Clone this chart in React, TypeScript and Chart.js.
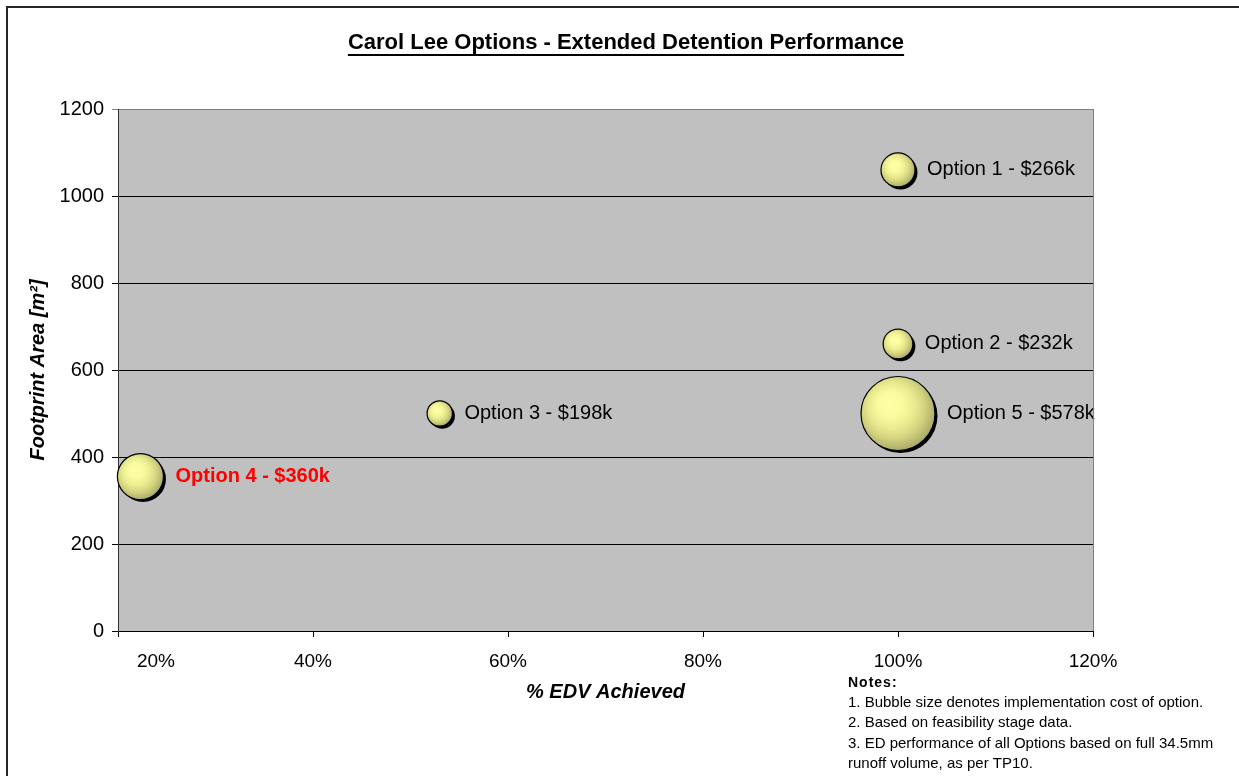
import React, { useEffect, useRef } from "react";
import { Chart, registerables } from "chart.js";

Chart.register(...registerables);

const optionNames = ["Option 1", "Option 2", "Option 3", "Option 4", "Option 5"];
const edvAchieved = [100, 100, 53, 22.3, 100];
const footprintArea = [1060, 660, 500, 355, 500];
const costK = [266, 232, 198, 360, 578];
const highlightIndex = 3;

const xTicks = [20, 40, 60, 80, 100, 120];
const yTicks = [0, 200, 400, 600, 800, 1000, 1200];

const chartTitle = "Carol Lee Options - Extended Detention Performance";
const xTitle = "% EDV Achieved";
const yTitle = "Footprint Area [m\u00B2]";
const notesHeader = "Notes:";
const notesLines = [
  "1. Bubble size denotes implementation cost of option.",
  "2. Based on feasibility stage data.",
  "3. ED performance of all Options based on full 34.5mm",
  "runoff volume, as per TP10.",
];

const FONT = "'Liberation Sans', Arial, sans-serif";
const RADIUS_PER_K = 0.064;

const decorPlugin = {
  id: "decor",
  beforeDraw(chart: any) {
    const { ctx, chartArea } = chart;
    ctx.save();
    ctx.fillStyle = "#ffffff";
    ctx.fillRect(0, 0, chart.width, chart.height);
    ctx.fillStyle = "#C0C0C0";
    ctx.fillRect(chartArea.left, chartArea.top, chartArea.right - chartArea.left, chartArea.bottom - chartArea.top);
    ctx.restore();
    // first x label sits to the right of the y axis, as in the reference
    try {
      const s = chart.scales.x;
      const items = s.getLabelItems();
      if (items && items.length && items[0].options && items[0].options.translation) {
        items[0].options.translation[0] += 38;
      }
    } catch (e) {
      /* ignore */
    }
  },
  afterDraw(chart: any) {
    const { ctx, chartArea } = chart;
    ctx.save();
    // right plot border
    ctx.strokeStyle = "#808080";
    ctx.lineWidth = 1;
    ctx.beginPath();
    ctx.moveTo(chartArea.right + 0.5, chartArea.top);
    ctx.lineTo(chartArea.right + 0.5, chartArea.bottom);
    ctx.stroke();

    // outer frame
    ctx.fillStyle = "#262626";
    ctx.fillRect(6, 6, 2, chart.height);
    ctx.fillRect(6, 6, chart.width, 2);

    // title
    ctx.fillStyle = "#000";
    ctx.font = `bold 22px ${FONT}`;
    ctx.textAlign = "center";
    ctx.textBaseline = "middle";
    const tx = 626;
    ctx.fillText(chartTitle, tx, 43);
    const tw = ctx.measureText(chartTitle).width;
    ctx.fillRect(tx - tw / 2, 54, tw, 2);

    // axis titles
    ctx.font = `italic bold 20px ${FONT}`;
    ctx.fillText(xTitle, (chartArea.left + chartArea.right) / 2, 692);
    ctx.save();
    ctx.translate(38, (chartArea.top + chartArea.bottom) / 2);
    ctx.rotate(-Math.PI / 2);
    ctx.fillText(yTitle, 0, 0);
    ctx.restore();

    // notes
    ctx.textAlign = "left";
    ctx.font = `bold 14px ${FONT}`;
    (ctx as any).letterSpacing = "1px";
    ctx.fillText(notesHeader, 848, 683);
    (ctx as any).letterSpacing = "0px";
    ctx.font = `15px ${FONT}`;
    notesLines.forEach((l, i) => ctx.fillText(l, 848, 703 + i * 20.3));
    ctx.restore();
  },
  afterDatasetsDraw(chart: any) {
    const { ctx } = chart;
    const meta = chart.getDatasetMeta(0);
    ctx.save();
    meta.data.forEach((el: any, i: number) => {
      const x = el.x;
      const y = el.y;
      const r = el.options.radius;
      // shadow
      ctx.fillStyle = "#000";
      ctx.beginPath();
      ctx.arc(x + 2.5, y + 2.5, r, 0, Math.PI * 2);
      ctx.fill();
      // sphere
      const g = ctx.createRadialGradient(x - r * 0.25, y - r * 0.3, 0, x - r * 0.1, y - r * 0.12, r * 1.12);
      g.addColorStop(0, "#FFFFAA");
      g.addColorStop(0.3, "#FAFA9E");
      g.addColorStop(0.55, "#EAEA90");
      g.addColorStop(0.75, "#D4D480");
      g.addColorStop(1, "#ACAC6A");
      ctx.fillStyle = g;
      ctx.beginPath();
      ctx.arc(x, y, r, 0, Math.PI * 2);
      ctx.fill();
      ctx.strokeStyle = "#000";
      ctx.lineWidth = 1.2;
      ctx.stroke();

      // label
      const hi = i === highlightIndex;
      ctx.font = `${hi ? "bold " : ""}20px ${FONT}`;
      ctx.fillStyle = hi ? "#FF0000" : "#000";
      ctx.textAlign = "left";
      ctx.textBaseline = "middle";
      ctx.fillText(`${optionNames[i]} - $${costK[i]}k`, x + r + 12, y);
    });
    ctx.restore();
  },
};

export default function App() {
  const ref = useRef<HTMLCanvasElement | null>(null);
  useEffect(() => {
    if (!ref.current) return;
    const chart = new Chart(ref.current, {
      type: "bubble",
      data: {
        datasets: [
          {
            label: "Options",
            data: optionNames.map((_, i) => ({ x: edvAchieved[i], y: footprintArea[i], r: costK[i] * RADIUS_PER_K })),
            backgroundColor: "rgba(0,0,0,0)",
            borderColor: "rgba(0,0,0,0)",
            borderWidth: 0,
          },
        ],
      },
      options: {
        animation: false,
        responsive: false,
        devicePixelRatio: 1,
        layout: { padding: { left: 0, top: 109, right: 146, bottom: 0 } },
        plugins: {
          legend: { display: false },
          title: { display: false },
          tooltip: { enabled: false },
        },
        scales: {
          x: {
            type: "linear",
            min: xTicks[0],
            max: xTicks[xTicks.length - 1],
            afterBuildTicks: (s: any) => {
              s.ticks = xTicks.map((v) => ({ value: v }));
            },
            afterFit: (s: any) => {
              s.height = 145;
            },
            ticks: {
              color: "#000",
              font: { family: FONT, size: 19 },
              padding: 13,
              maxRotation: 0,
              callback: (v: any) => `${v}%`,
            },
            grid: { drawOnChartArea: false, drawTicks: true, tickLength: 6, color: "#000" },
            border: { color: "#000", width: 1 },
          },
          y: {
            type: "linear",
            min: yTicks[0],
            max: yTicks[yTicks.length - 1],
            afterBuildTicks: (s: any) => {
              s.ticks = yTicks.map((v) => ({ value: v }));
            },
            afterFit: (s: any) => {
              s.width = 118;
            },
            ticks: {
              color: "#000",
              font: { family: FONT, size: 20 },
              padding: 8,
              callback: (v: any) => String(v),
            },
            grid: {
              drawTicks: true,
              tickLength: 6,
              color: (c: any) => (c.tick && c.tick.value === yTicks[yTicks.length - 1] ? "#808080" : "#000"),
            },
            border: { color: "#333", width: 1 },
          },
        },
      },
      plugins: [decorPlugin],
    });
    return () => chart.destroy();
  }, []);
  return (
    <div style={{ position: "absolute", left: 0, top: 0, width: 1239, height: 776 }}>
      <canvas ref={ref} width={1239} height={776} style={{ display: "block", width: 1239, height: 776 }} />
    </div>
  );
}
